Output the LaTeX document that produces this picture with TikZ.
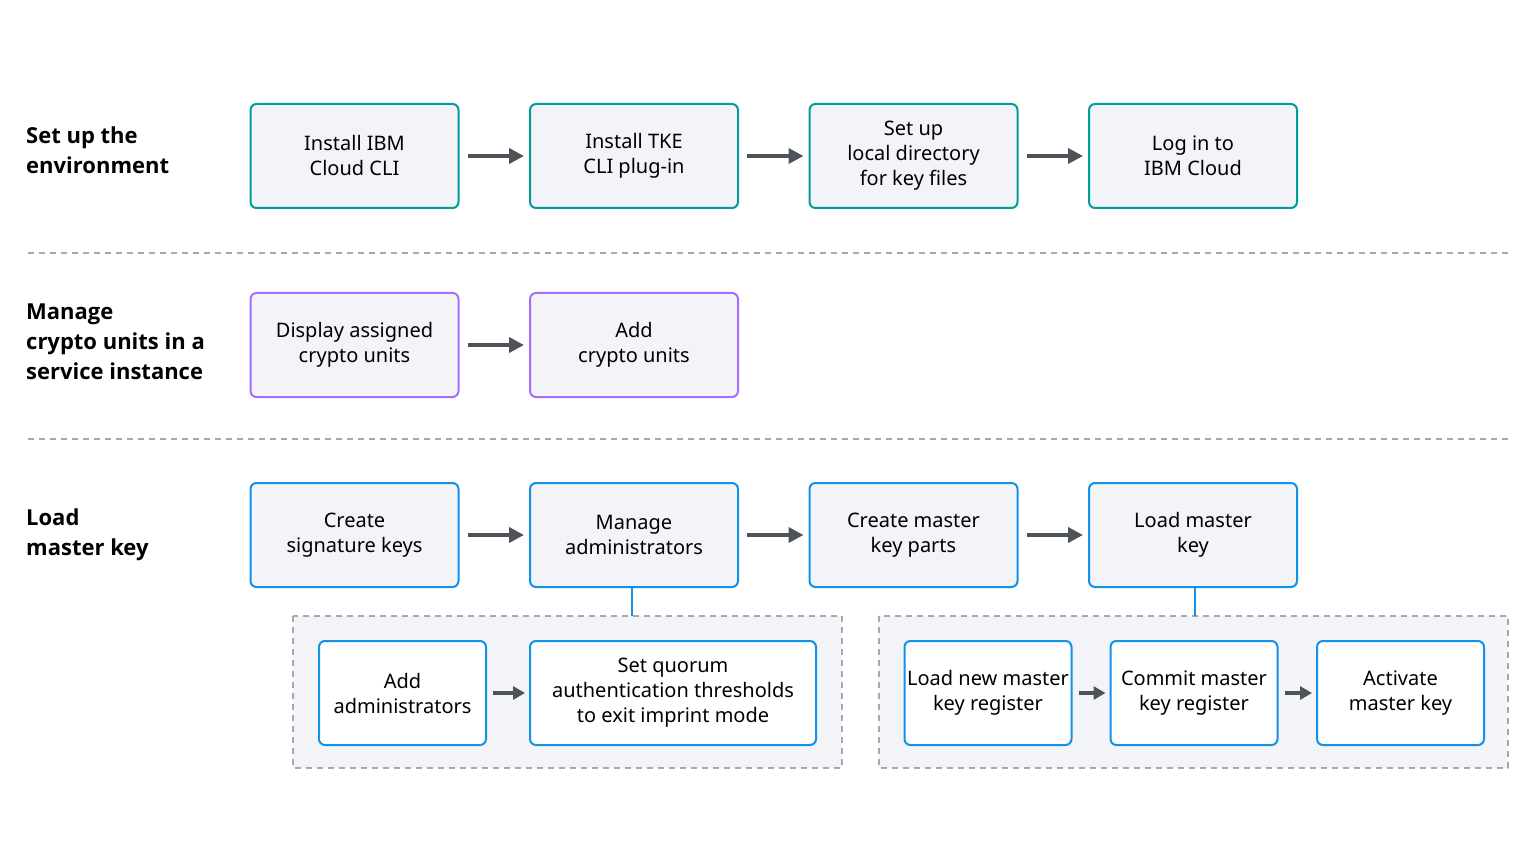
\documentclass[tikz,border=0pt]{standalone}
\usepackage{fontspec}
\setmainfont{Noto Sans}
\newfontfamily\labelfont{Open Sans}
\usetikzlibrary{arrows.meta}
\definecolor{boxfill}{HTML}{F2F4F8}
\definecolor{tealline}{HTML}{009D9A}
\definecolor{purpleline}{HTML}{A56EFF}
\definecolor{blueline}{HTML}{1192E8}
\definecolor{arrowgray}{HTML}{4D5358}
\definecolor{dashgray}{HTML}{A2A9B0}
\tikzset{
  stepbox/.style={draw, line width=2pt, rounded corners=6pt, fill=boxfill, minimum width=208pt,
    minimum height=104pt, inner sep=0pt, align=center, font=\fontsize{20}{25}\selectfont},
  envbox/.style={stepbox, draw=tealline},
  unitbox/.style={stepbox, draw=purpleline},
  keybox/.style={stepbox, draw=blueline},
  subbox/.style={keybox, fill=white, minimum width=167pt},
  grouparea/.style={draw=dashgray, fill=boxfill, line width=2pt, dash pattern=on 6pt off 5pt},
  rowlabel/.style={anchor=north west, align=left, inner sep=0pt, font=\labelfont\bfseries\fontsize{22}{30}\selectfont},
  flow/.style={arrowgray, line width=4pt, -{Triangle[length=15pt,width=15pt]}, shorten <=8pt, shorten >=5pt},
  subflow/.style={flow, -{Triangle[length=12pt,width=13pt]}, shorten <=6pt, shorten >=4pt},
  separator/.style={dashgray, line width=2pt, dash pattern=on 6pt off 5pt}
}
\begin{document}
\begin{tikzpicture}[x=1pt, y=-1pt]
  \useasboundingbox (0,0) rectangle (1538,866);
  % section labels
  \node[rowlabel] (lblenv) at (26,127) {Set up the\\environment};
  \node[rowlabel] (lblunits) at (26,304) {Manage\\crypto units in a\\service instance};
  \node[rowlabel] (lblkey) at (26,509) {Load\\master key};
  \draw[separator] (28,253) -- (1508,253);
  \draw[separator] (28,439) -- (1508,439);
  % set up the environment
  \node[envbox] (cli) at (354.5,156) {Install IBM\\Cloud CLI};
  \node[envbox] (plugin) at (634,156) {Install TKE\\CLI plug-in};
  \node[envbox] (localdir) at (913.5,156) {Set up\\local directory\\for key files};
  \node[envbox] (login) at (1193,156) {Log in to\\IBM Cloud};
  \draw[flow] (cli) -- (plugin);
  \draw[flow] (plugin) -- (localdir);
  \draw[flow] (localdir) -- (login);
  % crypto units
  \node[unitbox] (display) at (354.5,345) {Display assigned\\crypto units};
  \node[unitbox] (addunits) at (634,345) {Add\\crypto units};
  \draw[flow] (display) -- (addunits);
  % master key
  \node[keybox] (sigkeys) at (354.5,535) {Create\\signature keys};
  \node[keybox] (admins) at (634,535) {Manage\\administrators};
  \node[keybox] (keyparts) at (913.5,535) {Create master\\key parts};
  \node[keybox] (loadkey) at (1193,535) {Load master\\key};
  \draw[flow] (sigkeys) -- (admins);
  \draw[flow] (admins) -- (keyparts);
  \draw[flow] (keyparts) -- (loadkey);
  % detail groups
  \draw[grouparea] (293,616) rectangle (842,768);
  \draw[grouparea] (879,616) rectangle (1508,768);
  \coordinate (admintop) at (632,616);
  \coordinate (loadtop) at (1195,616);
  \draw[blueline, line width=2pt] (632,587) -- (admintop);
  \draw[blueline, line width=2pt] (1195,587) -- (loadtop);
  \node[subbox] (addadmins) at (402.5,693) {Add\\administrators};
  \node[subbox, minimum width=286pt] (quorum) at (673,693) {Set quorum\\authentication thresholds\\to exit imprint mode};
  \draw[subflow] (addadmins) -- (quorum);
  \node[subbox] (newreg) at (988,693) {Load new master\\key register};
  \node[subbox] (commit) at (1194,693) {Commit master\\key register};
  \node[subbox] (activate) at (1400.5,693) {Activate\\master key};
  \draw[subflow] (newreg) -- (commit);
  \draw[subflow] (commit) -- (activate);
\end{tikzpicture}
\end{document}
